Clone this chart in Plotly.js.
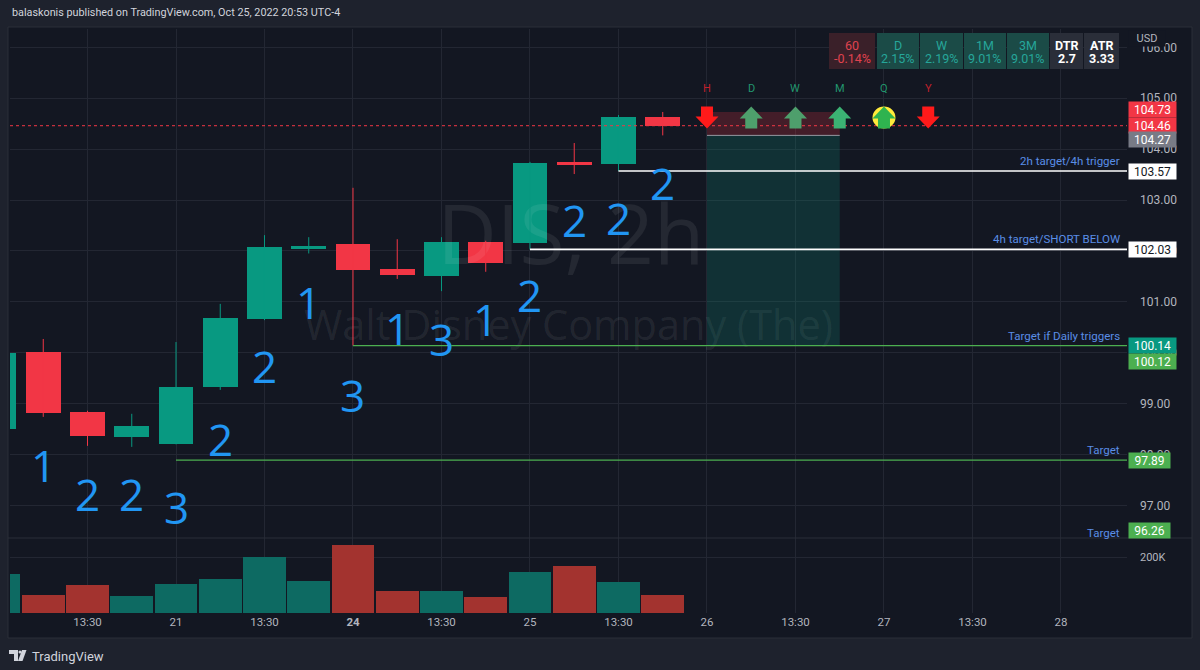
<!DOCTYPE html>
<html><head><meta charset="utf-8">
<script src="https://cdn.plot.ly/plotly-3.0.1.min.js"></script>
<style>html,body{margin:0;padding:0;background:#1e222d;}#chart{width:1200px;height:670px;}</style>
</head><body><div id="chart"></div>
<script>
// ---------- data ----------
const candleIdx   = [0,1,2,3,4,5,6,7,8,9,10,11,12,13,14,15];
const candleOpen  = [98.50,100.01,98.83,98.34,98.21,99.33,100.66,102.05,102.14,101.64,101.51,102.17,102.16,103.73,103.71,104.63];
const candleHigh  = [100.10,100.27,98.86,98.80,100.21,100.96,102.31,102.27,103.24,102.23,102.27,102.20,103.75,104.12,104.67,104.73];
const candleLow   = [98.40,98.74,98.17,98.15,98.20,99.27,100.64,101.95,100.14,101.45,101.21,101.59,102.03,103.51,103.57,104.27];
const candleClose = [99.99,98.82,98.36,98.56,99.33,100.68,102.08,102.07,101.62,101.53,102.17,101.76,103.73,103.71,104.63,104.46];
const volume      = [140000,63000,99000,61000,104000,120000,199000,114000,243000,79000,79000,58000,146000,168000,110000,63000];

const tickIdx  = [2,4,6,8,10,12,14,16,18,20,22,24];
const tickText = ['13:30','21','13:30','<b>24</b>','13:30','25','13:30','26','13:30','27','13:30','28'];

const countIdx  = [1,2,3,4,5,6,7,8,9,10,11,12,13,14,15];
const countText = ['1','2','2','3','2','2','1','3','1','3','1','2','2','2','2'];
const countY    = [97.79,97.22,97.22,96.97,98.30,99.74,101.00,99.17,100.49,100.27,100.66,101.13,102.61,102.65,103.33];

const levelPrice = [103.57,102.03,100.14,97.89,96.26];
const levelStart = [14,12,8,4,null];
const levelText  = ['2h target/4h trigger','4h target/SHORT BELOW','Target if Daily triggers','Target','Target'];

const tagPrice = [104.73,104.46,104.27,103.57,102.03,100.14,100.12,97.89,96.26];

const lastPrice = 104.46;
const entryPrice = 104.27, stopPrice = 104.73, targetPrice = 100.14;
const positionStart = 16, positionEnd = 19;

const signalLabels = ['H','D','W','M','Q','Y'];
const signalIdx    = [16,17,18,19,20,21];
const signalDir    = [-1,1,1,1,1,-1];
const signalPrice  = 104.62;

const tableTop    = ['60','D','W','1M','3M','DTR','ATR'];
const tableBottom = ['-0.14%','2.15%','2.19%','9.01%','9.01%','2.7','3.33'];

// ---------- geometry / style ----------
const L=10, R=1127, T=29, B=613, SPLIT=538;
const yMin=96.36, yMax=106.36, volMax=267857;
const xMin=0.2486, xMax=25.492;
const d0=(B-SPLIT)/(B-T);
const px2x = px => (px-L)/(R-L);
const py2y = py => (B-py)/(B-T);
const p2paper = p => d0 + (p-yMin)/(yMax-yMin)*(1-d0);
const pxPerY = (B-T)*(1-d0)/(yMax-yMin);

const UP='#089981', DN='#f23645';
const isUp = candleIdx.map(i => candleClose[i] >= candleOpen[i]);
const FONT='Roboto, "Open Sans", sans-serif';

// ---------- traces ----------
const traces = [];
traces.push({type:'scatter', mode:'text', x:[(xMin+xMax)/2+0.05,(xMin+xMax)/2], y:[102.15,100.45],
  text:['DIS, 2h','Walt Disney Company (The)'], textfont:{size:[82,41.5], color:'rgba(255,255,255,0.075)', family:'"Open Sans", sans-serif'},
  hoverinfo:'skip', showlegend:false, xaxis:'x', yaxis:'y'});
[true,false].forEach(up => {
  const xs=[], ys=[];
  candleIdx.forEach(i => { if(isUp[i]===up){ xs.push(i,i,null); ys.push(candleLow[i],candleHigh[i],null);} });
  traces.push({type:'scatter', mode:'lines', x:xs, y:ys, line:{color: up?UP:DN, width:1}, hoverinfo:'skip', showlegend:false, xaxis:'x', yaxis:'y'});
});
const minH = 3/pxPerY;
traces.push({type:'bar', x:candleIdx,
  base: candleIdx.map(i => { const lo=Math.min(candleOpen[i],candleClose[i]), h=Math.abs(candleClose[i]-candleOpen[i]); return h<minH ? (lo+h/2-minH/2) : lo; }),
  y: candleIdx.map(i => Math.max(Math.abs(candleClose[i]-candleOpen[i]), minH)),
  width:0.79, marker:{color: candleIdx.map(i => isUp[i]?UP:DN), line:{width:0}},
  hoverinfo:'skip', showlegend:false, xaxis:'x', yaxis:'y'});
traces.push({type:'bar', x:candleIdx, y:volume, width:0.97,
  marker:{color: candleIdx.map(i => isUp[i]?'#0d6a62':'#a3332f'), line:{width:0}},
  hoverinfo:'skip', showlegend:false, xaxis:'x', yaxis:'y2'});

// ---------- shapes ----------
const shapes = [];
shapes.push({type:'rect', xref:'paper', yref:'paper', x0:px2x(8), x1:px2x(1192), y0:py2y(638), y1:py2y(27), fillcolor:'#131722', line:{color:'#2a2e39', width:1}, layer:'below'});
shapes.push({type:'line', xref:'paper', yref:'paper', x0:px2x(8), x1:px2x(1192), y0:py2y(SPLIT), y1:py2y(SPLIT), line:{color:'#2a2e39', width:1}});
// position tool (below signals)
shapes.push({type:'rect', xref:'x', yref:'y', x0:positionStart, x1:positionEnd, y0:entryPrice, y1:stopPrice, fillcolor:'rgba(242,54,69,0.22)', line:{width:0}});
shapes.push({type:'rect', xref:'x', yref:'y', x0:positionStart, x1:positionEnd, y0:targetPrice, y1:entryPrice, fillcolor:'rgba(8,153,129,0.2)', line:{width:0}});
shapes.push({type:'line', xref:'x', yref:'y', x0:positionStart, x1:positionEnd, y0:entryPrice, y1:entryPrice, line:{color:'#9598a1', width:1}});
const levelColor = ['#ffffff','#ffffff','#4caf50','#4caf50','#4caf50'];
const levelWidth = [1.6,1.6,1.2,1.2,1.2];
levelPrice.forEach((p,k) => { if(levelStart[k]!==null) shapes.push({type:'line', xref:'x', yref:'y', x0:levelStart[k], x1:xMax, y0:p, y1:p, line:{color:levelColor[k], width:levelWidth[k]}}); });
shapes.push({type:'line', xref:'x', yref:'y', x0:xMin, x1:xMax, y0:lastPrice, y1:lastPrice, line:{color:'#f23645', width:1, dash:'dot'}});
const upPath='M -6,-11 L 6,-11 L 6,-1 L 11.5,-1 L 0,11 L -11.5,-1 L -6,-1 Z';
const dnPath='M -6,11 L 6,11 L 6,1 L 11.5,1 L 0,-11 L -11.5,1 L -6,1 Z';
const sigFill = ['#ff1a1a','#4e9f6c','#4e9f6c','#3bb273','#2fb34f','#ff1a1a'];
signalLabels.forEach((s,k) => {
  if(s==='Q') shapes.push({type:'circle', xref:'x', yref:'y', xsizemode:'pixel', ysizemode:'pixel', xanchor:signalIdx[k], yanchor:signalPrice, x0:-11.5, x1:11.5, y0:-11, y1:11, fillcolor:'#ffeb3b', line:{width:0}});
  shapes.push({type:'path', xref:'x', yref:'y', xsizemode:'pixel', ysizemode:'pixel', xanchor:signalIdx[k], yanchor:signalPrice,
    path: signalDir[k]>0?upPath:dnPath, fillcolor: sigFill[k], line:{width:0}});
});
const cellX0=[829,877,920,964,1007,1050,1084], cellX1=[875,919,963,1006,1049,1083,1119];
const cellBg=['#3a2029','#1b4b47','#1b4b47','#1b4b47','#1b4b47','#2a2e39','#2a2e39'];
const cellFg=['#e0434f','#26a69a','#26a69a','#26a69a','#26a69a','#ffffff','#ffffff'];
tableTop.forEach((t,k) => shapes.push({type:'rect', xref:'paper', yref:'paper', x0:px2x(cellX0[k]), x1:px2x(cellX1[k]), y0:py2y(69), y1:py2y(33), fillcolor:cellBg[k], line:{width:0}}));
shapes.push({type:'path', xref:'paper', yref:'paper', path:
  `M ${px2x(9)},${py2y(650)} L ${px2x(18)},${py2y(650)} L ${px2x(18)},${py2y(661)} L ${px2x(14)},${py2y(661)} L ${px2x(14)},${py2y(654)} L ${px2x(9)},${py2y(654)} Z`, fillcolor:'#d1d4dc', line:{width:0}});
shapes.push({type:'circle', xref:'paper', yref:'paper', x0:px2x(18.5), x1:px2x(21.5), y0:py2y(653.5), y1:py2y(650.5), fillcolor:'#d1d4dc', line:{width:0}});
shapes.push({type:'path', xref:'paper', yref:'paper', path:
  `M ${px2x(22)},${py2y(650)} L ${px2x(26.5)},${py2y(650)} L ${px2x(22.5)},${py2y(661)} L ${px2x(18)},${py2y(661)} Z`, fillcolor:'#d1d4dc', line:{width:0}});

// ---------- annotations ----------
const ann = [];
ann.push({xref:'paper', yref:'paper', x:px2x(10), y:py2y(13), xanchor:'left', yanchor:'middle', showarrow:false,
  text:'balaskonis published on TradingView.com, Oct 25, 2022 20:53 UTC-4', font:{family:FONT, size:10.8, color:'#d1d4dc'}});
ann.push({xref:'paper', yref:'paper', x:px2x(30), y:py2y(656), xanchor:'left', yanchor:'middle', showarrow:false,
  text:'TradingView', font:{family:FONT, size:13, color:'#d1d4dc'}});
countIdx.forEach((i,k) => ann.push({xref:'x', yref:'y', x:i, y:countY[k], text:countText[k], showarrow:false, xanchor:'center', yanchor:'middle',
  font:{family:'"Open Sans", sans-serif', size:44, color:'#2196f3'}}));
const sigLabelColor = signalDir.map(d => d>0?'#22966e':'#c0212d');
signalLabels.forEach((s,k) => ann.push({xref:'x', yref:'y', x:signalIdx[k], y:signalPrice, yshift:29, text:s, showarrow:false,
  xanchor:'center', yanchor:'middle', font:{family:FONT, size:11, color:sigLabelColor[k]}}));
levelPrice.forEach((p,k) => ann.push({xref:'paper', yref:'paper', x:px2x(1122), y:p2paper(p)+10/(B-T), xanchor:'right', yanchor:'middle', showarrow:false,
  text:levelText[k], font:{family:FONT, size:11.5, color:'#5a8ee6'}}));
const tagBg = ['#f23645','#f23645','#787b86','#ffffff','#ffffff','#089981','#4caf50','#4caf50','#4caf50'];
const tagFg = ['#ffffff','#ffffff','#ffffff','#131722','#131722','#ffffff','#ffffff','#ffffff','#ffffff'];
const tagShift = [2,0,-4.5,0,0,0,-14.5,0,0];
const tagW = [46,46,46,46,46,46,46,40,40];
tagPrice.forEach((p,k) => {
  let y = p2paper(p);
  const half = 7.5/(B-T);
  if (y < d0+half) y = d0+half;
  ann.push({xref:'paper', yref:'paper', x:px2x(1128), y:y, yshift:tagShift[k], xanchor:'left', yanchor:'middle', showarrow:false,
    text:p.toFixed(2), bgcolor:tagBg[k], width:tagW[k], height:14, borderpad:0.5, align:'center',
    font:{family:FONT, size:12, color:tagFg[k]}});
});
ann.push({xref:'paper', yref:'paper', x:px2x(1147), y:py2y(38), xanchor:'center', yanchor:'middle', showarrow:false, text:'USD', bgcolor:'#131722', width:34, height:13,
  font:{family:FONT, size:11, color:'#b2b5be'}});
tableTop.forEach((t,k) => {
  const cx = px2x((cellX0[k]+cellX1[k])/2);
  const bold = k>=5;
  ann.push({xref:'paper', yref:'paper', x:cx, y:py2y(45), xanchor:'center', yanchor:'middle', showarrow:false, text: bold?'<b>'+t+'</b>':t, font:{family:FONT, size:12.5, color:cellFg[k]}});
  ann.push({xref:'paper', yref:'paper', x:cx, y:py2y(58), xanchor:'center', yanchor:'middle', showarrow:false, text: bold?'<b>'+tableBottom[k]+'</b>':tableBottom[k], font:{family:FONT, size:12.5, color:cellFg[k]}});
});

const layout = {
  width:1200, height:670, margin:{l:L, r:1200-R, t:T, b:670-B},
  paper_bgcolor:'#1e222d', plot_bgcolor:'rgba(0,0,0,0)',
  showlegend:false, barmode:'overlay', bargap:0,
  font:{family:FONT, color:'#b2b5be'},
  xaxis:{range:[xMin,xMax], anchor:'y2', tickvals:tickIdx, ticktext:tickText, showgrid:true, gridcolor:'#232733', gridwidth:1,
    zeroline:false, showline:false, ticks:'', tickfont:{size:11.5, color:'#b2b5be', family:FONT}, fixedrange:true},
  yaxis:{domain:[d0,1], range:[yMin,yMax], side:'right', tickvals:[97,98,99,100,101,102,103,104,105,106], ticktext:[97,98,99,100,101,102,103,104,105,106].map(v=>v.toFixed(2)),
    showgrid:true, gridcolor:'#232733', zeroline:false, showline:false, ticks:'', ticklabelstandoff:12,
    tickfont:{size:12, color:'#b2b5be', family:FONT}},
  yaxis2:{domain:[0,d0], range:[0,volMax], side:'right', tickvals:[200000], ticktext:['200K'], showgrid:true, gridcolor:'#232733',
    zeroline:false, showline:false, ticks:'', ticklabelstandoff:12, tickfont:{size:11, color:'#b2b5be', family:FONT}},
  shapes: shapes, annotations: ann
};
Plotly.newPlot('chart', traces, layout, {staticPlot:true, displayModeBar:false});
</script></body></html>
